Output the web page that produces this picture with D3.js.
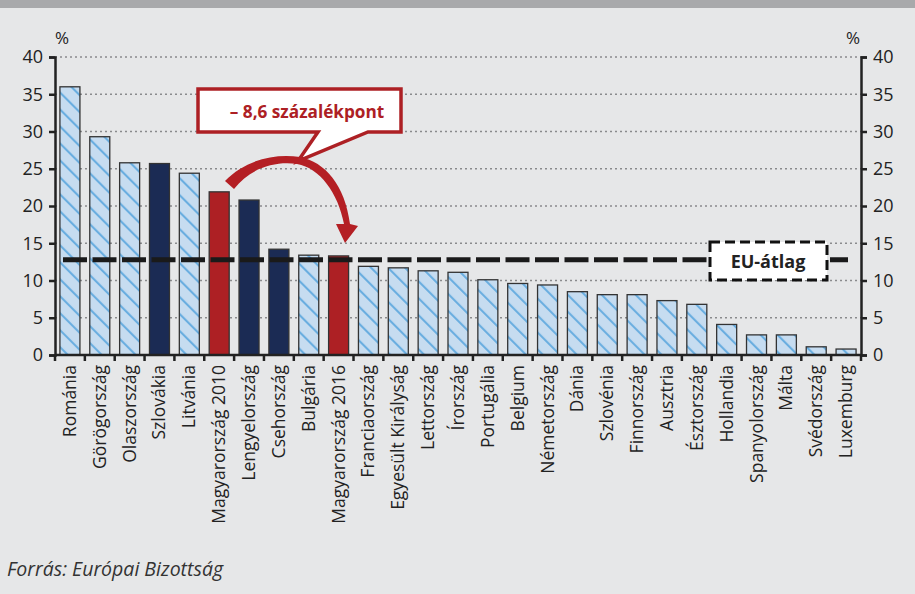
<!DOCTYPE html>
<html lang="hu">
<head>
<meta charset="UTF-8" />
<title>Chart</title>
<script src="https://d3js.org/d3.v7.min.js"></script>
<style>
  body { margin: 0; background: #e6e7e8; }
  svg text { font-family: "Open Sans", sans-serif; fill: #222; }
</style>
</head>
<body>
<div id="chart"></div>
<script>
// data
var countries = ["Románia", "Görögország", "Olaszország", "Szlovákia", "Litvánia",
  "Magyarország 2010", "Lengyelország", "Csehország", "Bulgária", "Magyarország 2016",
  "Franciaország", "Egyesült Királyság", "Lettország", "Írország", "Portugália",
  "Belgium", "Németország", "Dánia", "Szlovénia", "Finnország", "Ausztria",
  "Észtország", "Hollandia", "Spanyolország", "Málta", "Svédország", "Luxemburg"]
var values = [36.0, 29.3, 25.8, 25.7, 24.4, 21.9, 20.8, 14.2, 13.4, 13.3,
  11.9, 11.7, 11.3, 11.1, 10.1, 9.6, 9.4, 8.5, 8.1, 8.1, 7.3,
  6.8, 4.1, 2.7, 2.7, 1.1, 0.8]
// h = hatched, n = navy (V4), r = Hungary
var groups = ["h", "h", "h", "n", "h", "r", "n", "n", "h", "r",
  "h", "h", "h", "h", "h", "h", "h", "h", "h", "h", "h",
  "h", "h", "h", "h", "h", "h"]
var yTicks = [0, 5, 10, 15, 20, 25, 30, 35, 40]
var euAverage = 12.8

var width = 915, height = 594
var mLeft = 55, mRight = 861, mTop = 57, mBottom = 355

var svg = d3.select("#chart").append("svg")
  .attr("width", width)
  .attr("height", height)

svg.append("rect").attr("width", width).attr("height", height).attr("fill", "#e6e7e8")
svg.append("rect").attr("width", width).attr("height", 8).attr("fill", "#a8a9ab")

// hatch pattern (stripes running top-left to bottom-right)
var defs = svg.append("defs")
var pat = defs.append("pattern")
  .attr("id", "hatch")
  .attr("patternUnits", "userSpaceOnUse")
  .attr("width", 12).attr("height", 12)
  .attr("patternTransform", "rotate(-45)")
pat.append("rect").attr("width", 12).attr("height", 12).attr("fill", "#c6dcf0")
pat.append("line").attr("x1", 1).attr("y1", 0).attr("x2", 1).attr("y2", 12)
  .attr("stroke", "#6aaee0").attr("stroke-width", 2.2)

var x = d3.scaleBand()
  .domain(countries)
  .range([mLeft, mRight])
  .paddingInner(0.33)
  .paddingOuter(0.165)

var y = d3.scaleLinear()
  .domain([0, 40])
  .range([mBottom, mTop])

var colors = { h: "url(#hatch)", n: "#1b2b54", r: "#ad2024" }

// grid lines
svg.append("g")
  .selectAll("line")
  .data(yTicks.slice(1))
  .enter().append("line")
  .attr("x1", mLeft).attr("x2", mRight)
  .attr("y1", function(d) { return y(d) })
  .attr("y2", function(d) { return y(d) })
  .attr("stroke", "#8a8b8d")
  .attr("stroke-width", 1.3)
  .attr("stroke-dasharray", "2,3")

// bars
svg.append("g")
  .selectAll("rect")
  .data(values)
  .enter().append("rect")
  .attr("x", function(d, i) { return x(countries[i]) })
  .attr("y", function(d) { return y(d) })
  .attr("width", x.bandwidth())
  .attr("height", function(d) { return y(0) - y(d) })
  .attr("fill", function(d, i) { return colors[groups[i]] })
  .attr("stroke", "#333")
  .attr("stroke-width", 1.3)

// EU average line
svg.append("line")
  .attr("x1", 63).attr("x2", 848)
  .attr("y1", y(euAverage)).attr("y2", y(euAverage))
  .attr("stroke", "#1a1a1a")
  .attr("stroke-width", 5)
  .attr("stroke-dasharray", "24,5.5")

// axes
var yLeft = d3.axisLeft(y).tickValues(yTicks).tickSize(6).tickPadding(6)
var yRight = d3.axisRight(y).tickValues(yTicks).tickSize(6).tickPadding(6)

var gl = svg.append("g").attr("transform", "translate(" + mLeft + ",0)").call(yLeft)
var gr = svg.append("g").attr("transform", "translate(" + mRight + ",0)").call(yRight)
;[gl, gr].forEach(function(g) {
  g.select(".domain").attr("stroke", "#222").attr("stroke-width", 2.5)
  g.selectAll(".tick line").attr("stroke", "#222").attr("stroke-width", 2.5)
  g.selectAll(".tick text").attr("font-size", 18).attr("font-family", "Open Sans").attr("fill", "#222")
})

// x axis with ticks between categories
svg.append("line")
  .attr("x1", mLeft).attr("x2", mRight)
  .attr("y1", mBottom).attr("y2", mBottom)
  .attr("stroke", "#222").attr("stroke-width", 2.5)
svg.append("g")
  .selectAll("line")
  .data(d3.range(countries.length + 1))
  .enter().append("line")
  .attr("x1", function(i) { return mLeft + i * x.step() })
  .attr("x2", function(i) { return mLeft + i * x.step() })
  .attr("y1", mBottom).attr("y2", mBottom + 6)
  .attr("stroke", "#222").attr("stroke-width", 2.5)

svg.append("g")
  .selectAll("text")
  .data(countries)
  .enter().append("text")
  .attr("transform", function(d) {
    return "translate(" + (x(d) + x.bandwidth() / 2 + 6) + "," + (mBottom + 10) + ") rotate(-90)"
  })
  .attr("text-anchor", "end")
  .attr("font-size", 17.5)
  .text(function(d) { return d })

// % labels
svg.append("text").attr("x", 62).attr("y", 44).attr("text-anchor", "middle").attr("font-size", 17).text("%")
svg.append("text").attr("x", 853).attr("y", 44).attr("text-anchor", "middle").attr("font-size", 17).text("%")

// callout box
svg.append("path")
  .attr("d", "M198,89 L401,89 L401,132 L368,132 L298,161 L318,132 L198,132 Z")
  .attr("fill", "#fff")
  .attr("stroke", "#ad2024")
  .attr("stroke-width", 3.5)
  .attr("stroke-linejoin", "miter")
svg.append("text")
  .attr("x", 307).attr("y", 118)
  .attr("text-anchor", "middle")
  .attr("font-size", 17.2).attr("font-weight", "bold")
  .style("fill", "#ad2024")
  .text("– 8,6 százalékpont")

// curved arrow
svg.append("path")
  .attr("d", "M225,181 C245,160 275,153 300,157 C325,162 345,185 350,224 " +
    "L358,226 L345,243 L336,224 L344,224 " +
    "C338,193 320,168 297,164 C275,161 250,168 234,189 Z")
  .attr("fill", "#b41f24")

// EU label box
svg.append("rect")
  .attr("x", 710).attr("y", 242).attr("width", 117).attr("height", 38)
  .attr("fill", "#fff")
  .attr("stroke", "#111")
  .attr("stroke-width", 3)
  .attr("stroke-dasharray", "10,5")
svg.append("text")
  .attr("x", 768).attr("y", 268)
  .attr("text-anchor", "middle")
  .attr("font-size", 18).attr("font-weight", "bold")
  .text("EU-átlag")

// source
svg.append("text")
  .attr("x", 7).attr("y", 576)
  .attr("font-size", 19.5).attr("font-style", "italic")
  .style("fill", "#333")
  .text("Forrás: Európai Bizottság")
</script>
</body>
</html>
